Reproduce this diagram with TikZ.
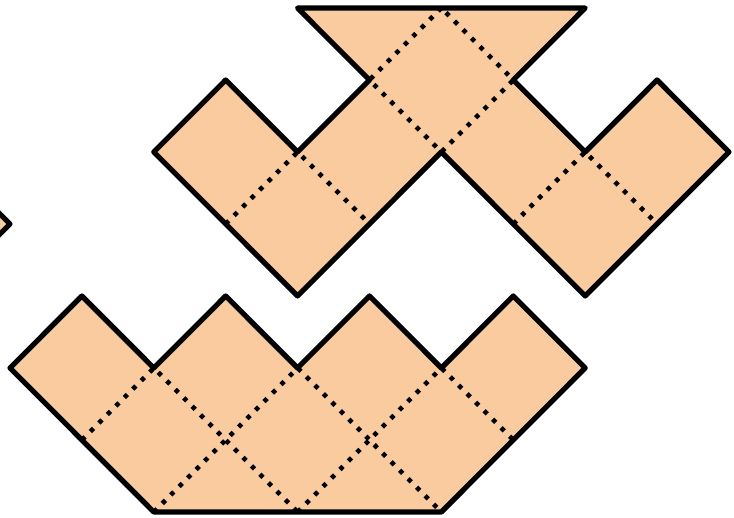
\documentclass[tikz,border=0pt]{standalone}
\definecolor{tile}{RGB}{249,203,159}
\tikzset{
  piece/.style={fill=tile, draw=black, line width=5.2pt, line join=round},
  fold/.style={draw=black, line width=4.6pt, dash pattern=on 4.4pt off 7.6pt, line cap=butt}
}
\begin{document}
\begin{tikzpicture}[x=71.9pt,y=-72pt]
\useasboundingbox (-0.139,-0.111) rectangle (10.070,7.083);
\clip (-0.139,-0.111) rectangle (10.070,7.083);
% left partial piece
\path[piece] (-1,2) -- (0,3) -- (-1,4) -- cycle;
% top figure
\path[piece] (4,0) -- (5,1) -- (4,2) -- (3,1) -- (2,2) -- (3,3) -- (4,4) -- (5,3) -- (6,2)
  -- (7,3) -- (8,4) -- (9,3) -- (10,2) -- (9,1) -- (8,2) -- (7,1) -- (8,0) -- cycle;
\draw[fold] (6,0) -- (5,1) -- (6,2) -- (7,1) -- cycle;
\draw[fold] (3,3) -- (4,2) -- (5,3);
\draw[fold] (7,3) -- (8,2) -- (9,3);
% bottom figure
\path[piece] (0,5) -- (1,4) -- (2,5) -- (3,4) -- (4,5) -- (5,4) -- (6,5) -- (7,4) -- (8,5)
  -- (7,6) -- (6,7) -- (2,7) -- (1,6) -- cycle;
\draw[fold] (1,6) -- (2,5) -- (4,7);
\draw[fold] (2,7) -- (4,5) -- (6,7);
\draw[fold] (4,7) -- (6,5) -- (7,6);
\end{tikzpicture}
\end{document}
